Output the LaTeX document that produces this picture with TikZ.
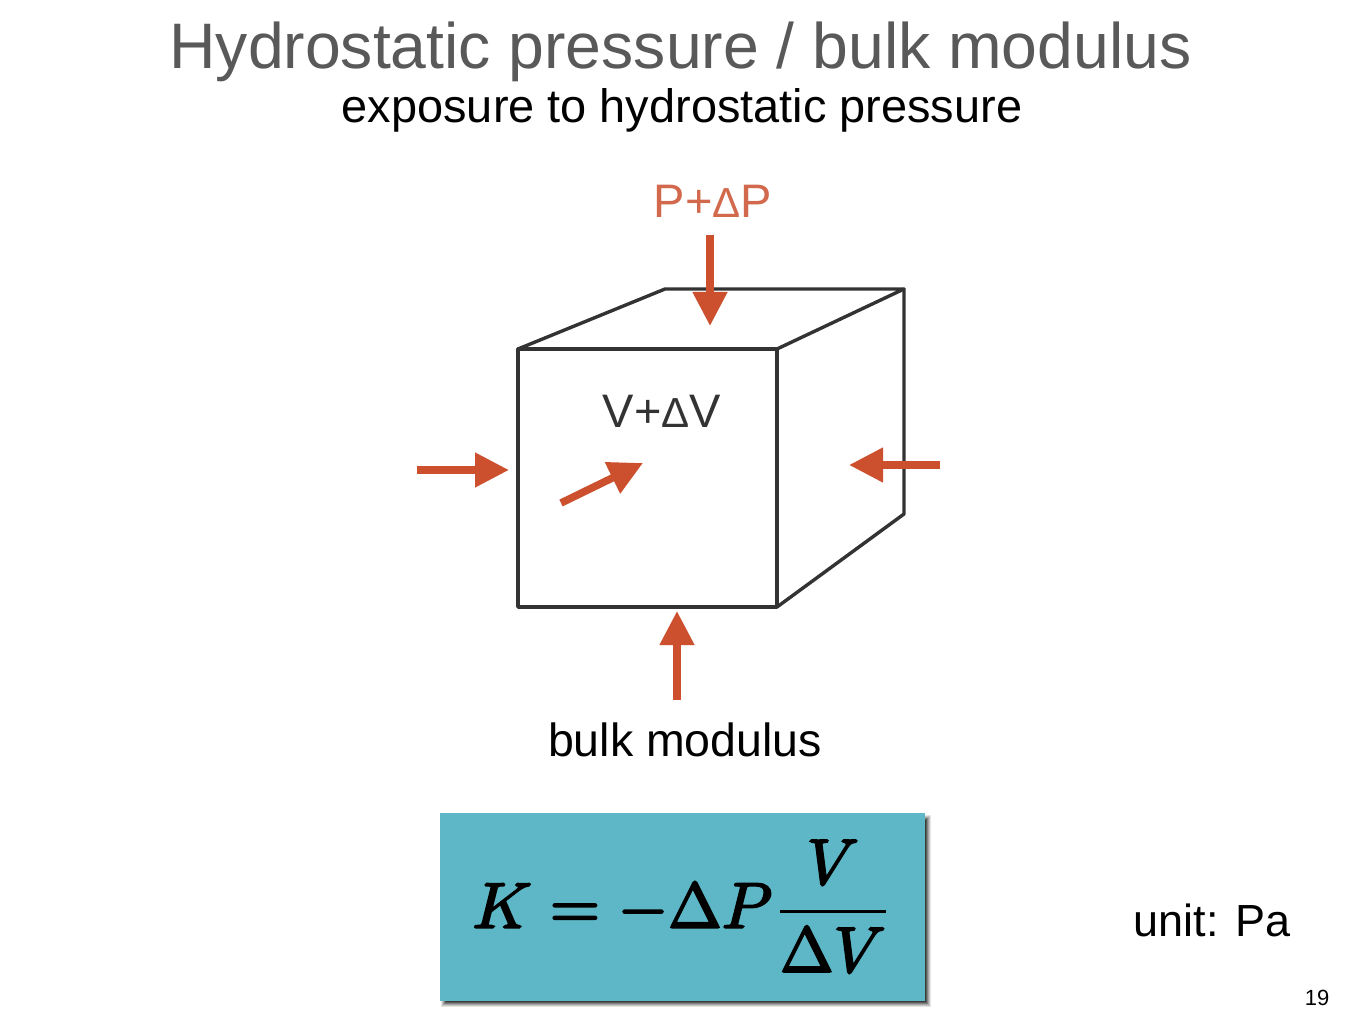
\documentclass[tikz,border=0pt]{standalone}
\usepackage{fontspec}
\setmainfont{Liberation Sans}
\usetikzlibrary{arrows.meta}
\definecolor{titlegray}{HTML}{595959}
\definecolor{arrowred}{HTML}{CC4F2E}
\definecolor{labelred}{HTML}{D2694C}
\definecolor{cubeline}{HTML}{333333}
\definecolor{boxteal}{HTML}{5DB7C7}
\newcommand{\fs}[1]{\fontsize{#1}{#1}\selectfont}
\newcommand{\smalldelta}{{\fs{42}Δ}}
\tikzset{
  x=1pt,y=-1pt,
  txt/.style={inner sep=0pt,anchor=base},
  cubeedge/.style={draw=cubeline,line width=3.4pt,line join=round,line cap=round},
  pressure/.style={draw=arrowred,line width=7.5pt,-{Triangle[length=34pt,width=33pt]}},
}
\begin{document}
\begin{tikzpicture}
\useasboundingbox (0,0) rectangle (1365,1024);
\fill[white] (0,0) rectangle (1365,1024);
\node[txt,text=titlegray] (title) at (680.5,69) {\fs{64.3}Hydrostatic pressure / bulk modulus};
\node[txt,text=black] (sub) at (682,123) {\fs{46.9}exposure to hydrostatic pressure};
% cube
\coordinate (fa) at (518,349);
\coordinate (fb) at (777,349);
\coordinate (fc) at (777,607);
\coordinate (fd) at (518,607);
\coordinate (ba) at (665,289);
\coordinate (bb) at (904,289);
\coordinate (bc) at (904,514);
\draw[cubeedge] (fa) -- (fb) -- (fc) -- (fd) -- cycle;
\draw[cubeedge] (fa) -- (ba) -- (bb) -- (fb);
\draw[cubeedge] (bb) -- (bc) -- (fc);
\node[txt,text=cubeline] (vol) at (662,427) {\fs{47}V+\smalldelta V};
\node[txt,text=labelred] (pres) at (713,218) {\fs{47}P+\smalldelta P};
% arrows
\coordinate (t0) at (710,235); \coordinate (t1) at (710,326);
\coordinate (l0) at (417,470); \coordinate (l1) at (509,470);
\coordinate (r0) at (940,465); \coordinate (r1) at (849,465);
\coordinate (b0) at (677,700); \coordinate (b1) at (677,611);
\coordinate (d0) at (561,503); \coordinate (d1) at (643,463);
\draw[pressure] (t0) -- (t1);
\draw[pressure] (l0) -- (l1);
\draw[pressure] (r0) -- (r1);
\draw[pressure] (b0) -- (b1);
\draw[pressure] (d0) -- (d1);
\node[txt] (bulk) at (685,756) {\fs{46.5}bulk modulus};
% formula box
\foreach \g/\o in {6/0.1,5/0.13,4/0.17,3/0.22,2/0.28,1/0.35,0/0.45}
  \fill[black,opacity=\o] (447-\g,821-\g) rectangle (925+\g,1001+\g);
\fill[boxteal] (440,813) rectangle (925,1001);
\node[inner sep=0pt] (formula) at (683,906) {\scalebox{6.45}{\special{pdf:code q 2 Tr 0.3 w}$\displaystyle K=-\Delta P\frac{V}{\Delta V}$\special{pdf:code Q}}};
\node[txt] (unit) at (1212,936) {\fs{45}unit: Pa};
\node[txt] (page) at (1317,1005) {\fs{22}19};
\end{tikzpicture}
\end{document}
